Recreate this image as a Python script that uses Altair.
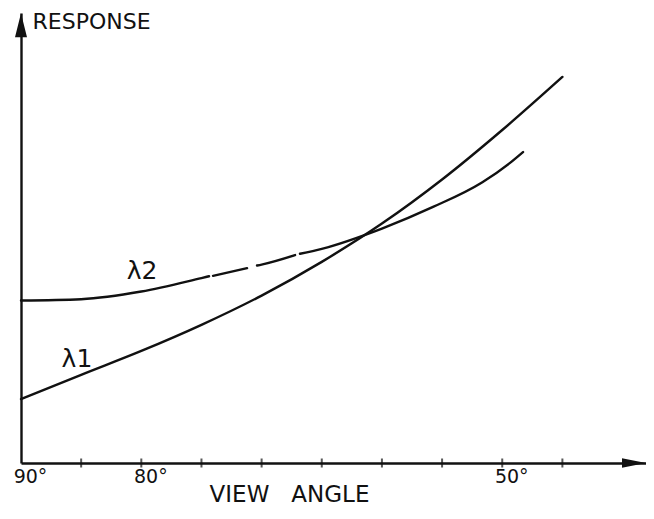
import altair as alt
import pandas as pd

# ---- data (view angle in degrees, response in arbitrary units 0-100)
l1_angles = [90, 85, 80, 75, 70, 65, 60, 55, 50, 45]
l1_resp = [14.2, 19.6, 24.9, 30.7, 37.2, 44.7, 53.2, 63.0, 74.0, 85.8]

# lambda-2 is drawn with a few small breaks in the middle
l2_seg1_angles = [90, 85, 80, 75, 74.37]
l2_seg1_resp = [36.1, 36.4, 38.1, 41.1, 41.5]
l2_seg2_angles = [74.04, 71.21]
l2_seg2_resp = [41.6, 43.3]
l2_seg3_angles = [70.38, 70, 67.22]
l2_seg3_resp = [43.9, 44.1, 46.2]
l2_seg4_angles = [66.81, 65, 60, 55.75, 51.65, 49.35, 48.27]
l2_seg4_resp = [46.5, 47.6, 52.1, 56.9, 62.4, 66.7, 69.1]

tick_angles = [85, 80, 75, 70, 65, 60, 55, 50, 45]
axis_values = [90, 85, 80, 75, 70, 65, 60, 55, 50, 45]
labelled = [90, 80, 50]

series_labels = ["λ1", "λ2"]
label_angles = [85.35, 79.94]
label_resp = [23.1, 42.7]

X_DOMAIN = [90, 38.05]
Y_DOMAIN = [0, 100]
FONT = "DejaVu Sans"
INK = "#111111"
NB = "\u00a0"

rows = []
for a, r in zip(l1_angles, l1_resp):
    rows.append({"angle": a, "resp": r, "seg": "l1"})
for name, aa, rr in [("l2a", l2_seg1_angles, l2_seg1_resp),
                     ("l2b", l2_seg2_angles, l2_seg2_resp),
                     ("l2c", l2_seg3_angles, l2_seg3_resp),
                     ("l2d", l2_seg4_angles, l2_seg4_resp)]:
    for a, r in zip(aa, rr):
        rows.append({"angle": a, "resp": r, "seg": name})
df = pd.DataFrame(rows)

xs = alt.Scale(domain=X_DOMAIN, nice=False, zero=False)
ys = alt.Scale(domain=Y_DOMAIN, nice=False, zero=False)

label_expr = ("indexof([" + ",".join(str(v) for v in labelled)
              + "], datum.value) >= 0 ? datum.value + '°' : ''")

x_axis = alt.Axis(
    values=axis_values, labelExpr=label_expr, ticks=False, tickSize=0,
    grid=False, domain=True, domainColor=INK, domainWidth=2.4,
    labelFont=FONT, labelFontSize=19, labelColor=INK, labelOffset=9,
    labelPadding=4, labelFlush=False,
    title="VIEW" + NB * 3 + "ANGLE", titleFont=FONT, titleFontSize=23,
    titleFontWeight="normal", titleColor=INK, titleX=268, titleY=38,
    titleAlign="center", titleBaseline="alphabetic", titleAnchor="start",
)
y_axis = alt.Axis(
    ticks=False, labels=False, grid=False, domain=True, domainColor=INK,
    domainWidth=2.4, title="RESPONSE", titleFont=FONT, titleFontSize=22,
    titleFontWeight="normal", titleColor=INK, titleAngle=0, titleX=11,
    titleY=15, titleAlign="left", titleBaseline="alphabetic",
)

X = alt.X("angle:Q", scale=xs, axis=x_axis)
Y = alt.Y("resp:Q", scale=ys, axis=y_axis)

lines = alt.Chart(df).mark_line(
    color=INK, strokeWidth=2.4, interpolate="monotone", strokeCap="round"
).encode(x=X, y=Y, detail="seg:N")

ticks = alt.Chart(pd.DataFrame({"angle": tick_angles, "resp": [0] * len(tick_angles)})).mark_tick(
    color=INK, orient="vertical", size=9, thickness=2
).encode(x=X, y=Y)

up_arrow = alt.Chart(pd.DataFrame({"angle": [90], "resp": [97.3]})).mark_point(
    shape="M0,-1L0.5,1L-0.5,1Z", size=576, filled=True, opacity=1,
    color=INK, strokeWidth=0
).encode(x=X, y=Y)

right_arrow = alt.Chart(pd.DataFrame({"angle": [39.05], "resp": [0]})).mark_point(
    shape="M1,0L-1,-0.4L-1,0.4Z", size=576, filled=True, opacity=1,
    color=INK, strokeWidth=0
).encode(x=X, y=Y)

labels = alt.Chart(pd.DataFrame({
    "angle": label_angles, "resp": label_resp, "txt": series_labels
})).mark_text(
    font=FONT, fontSize=25, color=INK, align="center", baseline="middle"
).encode(x=X, y=Y, text="txt:N")

chart = alt.layer(lines, ticks, up_arrow, right_arrow, labels).properties(
    width=625, height=450,
    padding={"left": 13, "top": 5, "right": 0, "bottom": 50},
    autosize=alt.AutoSizeParams(type="none"),
    background="white",
).configure_view(stroke=None)

chart.save("out.html", embed_options={"renderer": "svg", "actions": False})
